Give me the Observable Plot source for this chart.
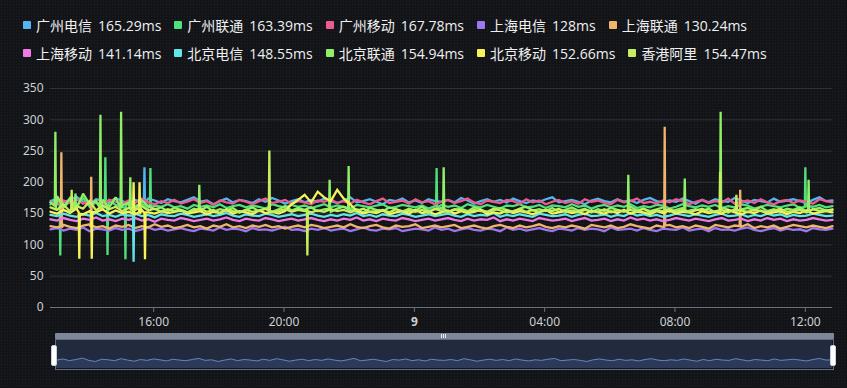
<!DOCTYPE html>
<html><head><meta charset="utf-8">
<script src="https://cdn.jsdelivr.net/npm/d3@7"></script>
<script src="https://cdn.jsdelivr.net/npm/@observablehq/plot@0.6"></script>
<style>
html,body{margin:0;padding:0;}
body{width:847px;height:388px;overflow:hidden;position:relative;background-color:#121418;
 background-image:radial-gradient(rgba(255,255,255,0.05) 0.7px, transparent 0.9px);background-size:3px 3px;
 font-family:"Open Sans","Noto Sans CJK SC",sans-serif;}
.row{position:absolute;left:23px;display:flex;align-items:center;gap:13px;height:18px;}
.item{display:flex;align-items:center;color:#f0f0f0;font-size:14px;white-space:nowrap;}
.sw{width:8px;height:8px;display:inline-block;margin-right:5px;border-radius:1px;}
.val{margin-left:6px;}
#main{position:absolute;left:0;top:70px;}
#slider{position:absolute;left:0;top:330px;}
.bar{position:absolute;left:55px;top:333px;width:779px;height:6px;background:#7e8899;border-radius:1px;}
.grip{position:absolute;left:441px;top:334px;width:6px;height:4px;
 background:repeating-linear-gradient(90deg,#e8ecf2 0 1px,transparent 1px 2px);}
.box{position:absolute;left:55px;top:339px;width:777px;height:29px;border:1px solid #5f6d86;}
.handle{position:absolute;top:345px;width:4px;height:19px;background:#ffffff;border:1px solid #c9d0da;border-radius:2px;}
</style></head>
<body>
<div id="legend"></div>
<div class="bar"></div><div class="grip"></div>
<div id="slider"></div>
<div class="box"></div>
<div class="handle" style="left:51px"></div>
<div class="handle" style="left:830px"></div>
<div id="main"></div>
<script>
// ---- data ----
const seriesNames = ["广州电信","广州联通","广州移动","上海电信","上海联通","上海移动","北京电信","北京联通","北京移动","香港阿里"];
const seriesColors = ["#57b4f2","#4fdf7c","#ea5c8e","#9b78f0","#f0b46c","#ee7ae6","#60e6e8","#90ef66","#f6f25a","#c6ee5e"];
const legendValues = ["165.29ms","163.39ms","167.78ms","128ms","130.24ms","141.14ms","148.55ms","154.94ms","152.66ms","154.47ms"];
const yTicks = [0,50,100,150,200,250,300,350];
// regular samples: every 12 minutes from 2023-06-08 12:50 to 2023-06-09 12:50
const startYMDHM = [2023,5,8,12,50];
const stepMinutes = 12;
const xTickTimes = ["06-08 16:00","06-08 20:00","06-09 00:00","06-09 04:00","06-09 08:00","06-09 12:00"];

const gzdx = [170,174,168,172,177,169,165,173,171,168,175,170,166,172,169,174,171,167,173,170,
168,172,176,169,171,165,170,174,168,172,170,167,173,169,175,171,166,170,173,168,
172,169,174,170,167,171,176,168,170,173,169,165,172,170,174,168,171,167,173,170,
169,172,168,175,171,166,170,173,169,172,168,174,170,167,171,169,173,176,168,170,
172,169,165,171,174,170,168,173,169,171,167,172,175,170,168,171,169,174,170,166,
172,168,173,170,169,175,171,167,172,170,168,174,169,171,173,170,167,172,176,170,171];
const gzlt = [165,172,160,170,163,175,161,168,158,171,164,160,169,162,166,159,163,161,165,160,
162,158,164,161,163,160,165,159,162,164,160,163,161,158,165,162,160,164,161,163,
159,162,165,160,163,161,158,164,162,160,163,165,159,161,164,162,160,163,158,162,
164,161,163,159,165,162,160,164,161,158,163,162,165,160,161,164,159,163,162,160,
165,161,163,158,162,164,160,163,161,165,159,162,160,164,163,158,161,165,162,160,
163,161,164,159,162,160,165,163,158,161,164,162,160,163,165,159,162,161,164,160,162];
const gzyd = [168,165,171,167,173,166,170,168,164,172,169,166,171,167,174,168,165,170,167,172,
166,169,173,167,170,164,171,168,166,172,169,165,170,174,167,169,172,166,170,168,
165,171,169,173,167,170,166,172,168,165,170,174,167,169,171,166,173,168,170,165,
169,172,167,170,174,168,165,171,169,167,172,170,166,173,168,171,165,169,172,167,
170,166,173,169,171,167,165,172,168,170,174,167,169,166,171,168,173,170,165,169,
172,167,170,168,174,166,169,171,167,173,168,165,170,172,167,171,169,166,173,170,168];
const shdx = [125,127,123,126,124,128,122,126,125,123,127,124,126,122,125,128,124,126,123,125,
127,124,122,126,125,123,128,124,126,125,122,127,124,125,123,126,129,124,125,122,
126,124,127,123,125,126,122,125,128,124,123,126,125,127,122,124,126,125,123,128,
124,126,122,125,127,124,123,126,125,122,128,124,126,123,125,127,124,122,126,125,
123,127,124,126,125,122,128,124,125,126,123,127,124,122,126,125,124,128,123,125,
126,122,127,124,125,123,126,128,124,122,125,127,123,126,124,125,122,127,125,124,126];
const shlt = [130,128,132,129,127,131,133,128,130,126,131,129,132,127,130,128,133,129,131,127,
129,132,128,130,126,131,129,133,128,130,127,131,129,132,128,130,126,129,131,128,
132,130,127,129,131,128,133,129,127,130,132,128,126,131,129,130,133,127,129,131,
128,130,132,127,129,131,128,126,130,132,129,127,131,128,130,133,129,127,130,128,
131,129,126,132,130,128,131,127,129,133,130,128,126,131,129,132,128,130,127,131,
129,126,132,130,128,131,129,133,127,130,128,131,126,129,132,130,128,131,129,127,130];
const shyd = [141,139,143,140,138,142,140,144,139,141,138,142,140,143,139,141,137,142,140,139,
143,141,138,140,142,139,141,144,140,138,142,140,139,143,141,138,140,142,139,141,
143,140,138,141,139,142,140,144,139,141,138,142,140,139,143,141,138,140,142,139,
141,143,140,138,142,139,141,140,144,138,141,139,142,140,138,143,141,139,140,142,
138,141,143,139,140,142,138,141,139,144,140,142,139,141,138,140,143,141,139,142,
140,138,141,143,139,140,142,138,141,139,143,140,142,138,141,139,140,143,141,139,140];
const bjdx = [148,146,150,147,145,149,147,151,146,148,145,149,147,150,146,148,144,149,147,146,
150,148,145,147,149,146,148,151,147,145,149,147,146,150,148,145,147,149,146,148,
150,147,145,148,146,149,147,151,146,148,145,149,147,146,150,148,145,147,149,146,
148,150,147,145,149,146,148,147,151,145,148,146,149,147,145,150,148,146,147,149,
145,148,150,146,147,149,145,148,146,151,147,149,146,148,145,147,150,148,146,149,
147,145,148,150,146,147,149,145,148,146,150,147,149,145,148,146,147,150,148,146,147];
const bjlt = [168,178,160,175,158,182,165,170,172,160,176,163,168,158,171,162,157,160,154,159,
156,152,158,155,161,153,157,155,159,152,156,160,154,158,153,157,162,155,159,156,
160,154,157,153,158,161,155,157,152,159,156,154,160,157,153,158,155,161,154,157,
159,153,156,158,154,160,157,152,155,159,156,153,158,161,155,157,154,159,153,156,
160,155,158,152,157,154,159,156,153,161,155,158,154,157,160,153,156,159,155,157,
154,158,152,160,156,153,157,159,155,161,154,157,153,158,156,160,154,157,159,155,157];
const bjyd = [153,150,156,151,158,149,154,152,157,150,155,151,153,149,156,152,150,154,151,153,
155,150,152,154,149,153,151,156,150,154,152,149,155,151,153,150,154,165,172,180,
168,185,176,170,188,174,165,154,150,153,151,155,149,152,154,150,156,151,153,149,
152,155,150,154,151,153,156,149,152,150,155,151,154,152,149,153,156,150,152,154,
151,153,149,155,152,150,154,151,156,150,153,152,149,154,151,155,150,153,152,149,
154,151,153,150,156,152,149,153,151,155,150,152,154,149,153,151,155,150,152,154,152];
const xgal = [160,156,165,153,162,158,170,155,163,157,161,154,159,156,162,155,158,153,157,154,
156,152,155,158,153,156,151,157,154,152,156,153,155,158,152,154,157,153,156,154,
152,155,153,157,154,156,152,155,158,153,154,156,152,157,154,155,153,156,152,158,
154,153,157,155,152,156,154,153,158,155,152,154,157,153,156,152,155,154,158,153,
155,152,156,154,153,157,152,155,154,156,153,158,152,155,154,157,153,156,152,155,
158,153,154,156,152,157,155,153,156,154,152,155,158,153,154,156,152,157,154,155,156];
// short spikes/dips: [series, time, value 1 min before, peak, value 1 min after]
const spikes = [
 ["北京联通","06-08 12:59",162,281,158],
 ["广州联通","06-08 13:08",163,83,160],
 ["上海联通","06-08 13:10",130,248,128],
 ["香港阿里","06-08 13:29",158,188,156],
 ["北京联通","06-08 13:36",160,182,158],
 ["北京移动","06-08 13:43",152,78,150],
 ["上海联通","06-08 14:05",129,209,131],
 ["北京移动","06-08 14:06",151,78,153],
 ["北京联通","06-08 14:22",159,308,157],
 ["广州联通","06-08 14:31",161,240,160],
 ["广州联通","06-08 14:35",162,84,159],
 ["北京联通","06-08 15:00",158,313,160],
 ["广州联通","06-08 15:08",160,77,162],
 ["北京联通","06-08 15:17",157,208,155],
 ["北京电信","06-08 15:23",147,73,148],
 ["北京移动","06-08 15:23",150,200,153],
 ["北京移动","06-08 15:34",152,200,150],
 ["广州电信","06-08 15:43",170,224,168],
 ["北京移动","06-08 15:44",151,77,152],
 ["广州联通","06-08 15:54",162,223,160],
 ["北京联通","06-08 17:24",156,196,154],
 ["香港阿里","06-08 19:33",155,251,153],
 ["香港阿里","06-08 20:43",156,83,154],
 ["北京联通","06-08 21:24",158,204,156],
 ["北京联通","06-08 21:59",157,226,155],
 ["广州联通","06-09 00:41",162,223,160],
 ["北京联通","06-09 00:54",156,224,158],
 ["北京联通","06-09 06:34",155,212,157],
 ["上海联通","06-09 07:41",129,289,131],
 ["北京联通","06-09 08:18",157,206,154],
 ["香港阿里","06-09 09:23",155,217,153],
 ["北京联通","06-09 09:24",156,313,158],
 ["香港阿里","06-09 09:53",154,180,156],
 ["上海联通","06-09 10:00",130,188,128],
 ["广州联通","06-09 12:00",161,224,163],
 ["北京联通","06-09 12:06",157,204,155]
];
const seriesValues = [gzdx,gzlt,gzyd,shdx,shlt,shyd,bjdx,bjlt,bjyd,xgal];

// ---- build ----
const [Y,M,D,H,MI] = startYMDHM;
const parseT = s => { const [md,hm] = s.split(" "); const [mo,dd]=md.split("-").map(Number); const [hh,mm]=hm.split(":").map(Number); return new Date(Y,mo-1,dd,hh,mm); };
const nSamples = gzdx.length;
const t0 = new Date(Y,M,D,H,MI);
const t1 = new Date(Y,M,D,H,MI+stepMinutes*(nSamples-1));
const rows = [];
seriesNames.forEach((name,k)=>{
  const pts = seriesValues[k].map((v,i)=>({t:new Date(Y,M,D,H,MI+stepMinutes*i), v, s:name}));
  spikes.filter(e=>e[0]===name).forEach(e=>{
    const t = parseT(e[1]);
    pts.push({t:new Date(+t-60000),v:e[2],s:name},{t,v:e[3],s:name},{t:new Date(+t+60000),v:e[4],s:name});
  });
  pts.sort((a,b)=>a.t-b.t);
  rows.push(...pts);
});

// legend
const legend = document.getElementById("legend");
[[0,5,16],[5,10,44]].forEach(([a,b,top])=>{
  const row = document.createElement("div"); row.className="row"; row.style.top=top+"px";
  for(let k=a;k<b;k++){
    const it=document.createElement("div"); it.className="item";
    it.innerHTML=`<span class="sw" style="background:${seriesColors[k]}"></span><span>${seriesNames[k]}</span><span class="val">${legendValues[k]}</span>`;
    row.appendChild(it);
  }
  legend.appendChild(row);
});

const xTicks = xTickTimes.map(parseT);
const fmt = d => d.getHours()===0 && d.getMinutes()===0 ? String(d.getDate()) : d3.timeFormat("%H:%M")(d);

const chart = Plot.plot({
  width:847, height:262,
  marginLeft:50, marginRight:15, marginTop:18, marginBottom:25,
  style:{background:"transparent", color:"#cfd0d2", fontSize:"12px", fontFamily:"'Noto Sans',sans-serif"},
  x:{type:"time", domain:[t0,t1]},
  y:{domain:[0,350]},
  color:{domain:seriesNames, range:seriesColors},
  marks:[
    Plot.gridY(yTicks,{stroke:"#303237", strokeOpacity:1}),
    Plot.axisY(yTicks,{tickSize:0, tickPadding:7, label:null}),
    Plot.lineY(rows,{x:"t", y:"v", z:"s", stroke:"s", strokeWidth:2.3, strokeLinejoin:"miter", strokeMiterlimit:2}),
    Plot.ruleY([0],{stroke:"#6e7079"}),
    Plot.axisX(xTicks,{tickSize:5, tickPadding:5, tickFormat:fmt, label:null, stroke:"#6e7079"})
  ]
});
chart.querySelectorAll("text").forEach(t=>{ if(t.textContent==="9") t.setAttribute("font-weight","bold"); });
document.getElementById("main").appendChild(chart);

// slider preview (uses first series)
const preview = gzdx.map((v,i)=>({t:new Date(Y,M,D,H,MI+stepMinutes*i), v}));
const slider = Plot.plot({
  width:847, height:45,
  marginLeft:56, marginRight:15, marginTop:10, marginBottom:7,
  style:{background:"transparent"},
  x:{type:"time", domain:[t0,t1], axis:null},
  y:{domain:[140,240], axis:null},
  marks:[
    Plot.rect([0],{x1:()=>t0, x2:()=>t1, y1:140, y2:240, fill:"#222b3d"}),
    Plot.areaY(preview,{x:"t", y1:140, y2:"v", fill:"#2c3a58"}),
    Plot.lineY(preview,{x:"t", y:"v", stroke:"#6183c6", strokeWidth:1})
  ]
});
document.getElementById("slider").appendChild(slider);
</script>
</body></html>
